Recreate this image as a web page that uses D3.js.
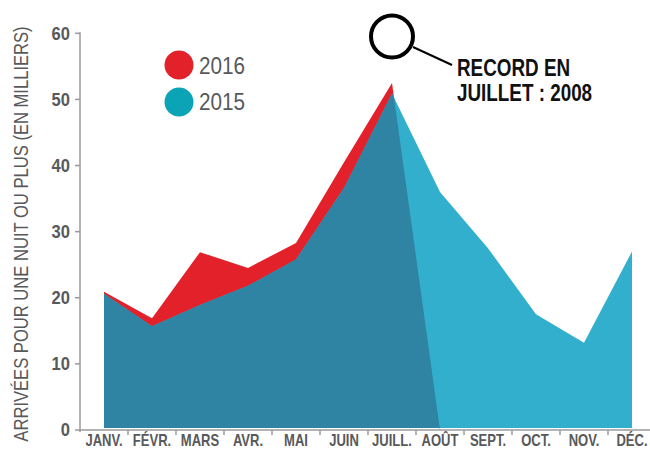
<!DOCTYPE html>
<html>
<head>
<meta charset="utf-8">
<script src="https://cdn.jsdelivr.net/npm/d3@7"></script>
<style>
  html, body { margin: 0; padding: 0; background: #fff; }
  svg { display: block; }
  text { font-family: "Liberation Sans", Arial, Helvetica, sans-serif; }
</style>
</head>
<body>
<svg id="chart" width="650" height="449"></svg>
<script>
const months = ["JANV.", "FÉVR.", "MARS", "AVR.", "MAI", "JUIN", "JUILL.", "AOÛT", "SEPT.", "OCT.", "NOV.", "DÉC."];
const values2016 = [20.9, 16.9, 26.9, 24.5, 28.3, 40.5, 52.5, 0, null, null, null, null];
const values2015 = [20.6, 15.7, 18.9, 21.8, 25.8, 36.6, 50.9, 36.0, 27.5, 17.5, 13.2, 27.0];
const yTicks = [0, 10, 20, 30, 40, 50, 60];
const legendLabels = ["2016", "2015"];
const yTitle = "ARRIVÉES POUR UNE NUIT OU PLUS (EN MILLIERS)";
const noteLines = ["RECORD EN", "JUILLET : 2008"];

const svg = d3.select("#chart");
const x = d3.scaleBand().domain(months).range([80, 656]).padding(0);
const y = d3.scaleLinear().domain([0, 60]).range([430, 33.3]);
const cx = m => x(m) + x.bandwidth() / 2;

const red = "#E3212A", light = "#33AFCE", dark = "#2E84A2";
const grey = "#58595B", axisGrey = "#9a9a9a";

// condensed text helper (horizontal squeeze to mimic a condensed face)
function txt(parent, tx, ty, str, opts) {
  const o = Object.assign({ size: 16, weight: "normal", sx: 0.8, anchor: "start", fill: grey, rot: 0, dy: null }, opts);
  const t = parent.append("text")
    .attr("transform", `translate(${tx},${ty}) rotate(${o.rot}) scale(${o.sx},1)`)
    .attr("text-anchor", o.anchor)
    .attr("font-size", o.size)
    .attr("font-weight", o.weight)
    .attr("fill", o.fill)
    .text(str);
  if (o.dy) t.attr("dy", o.dy);
  return t;
}

const data16 = months.map((m, i) => ({ m, v: values2016[i] })).filter(d => d.v !== null);
const data15 = months.map((m, i) => ({ m, v: values2015[i] }));

const area = d3.area().x(d => cx(d.m)).y0(y(0) - 2).y1(d => y(d.v));

svg.append("path").datum(data16).attr("d", area).attr("fill", red);
svg.append("path").datum(data15).attr("d", area).attr("fill", light);
svg.append("clipPath").attr("id", "clip16").append("path").datum(data16).attr("d", area);
svg.append("path").datum(data15).attr("d", area).attr("fill", dark).attr("clip-path", "url(#clip16)");

// Y axis
const yAxis = svg.append("g").attr("transform", "translate(80,0)");
yAxis.append("line").attr("x1", 0).attr("x2", 0).attr("y1", y(60) - 1).attr("y2", y(0) + 2)
  .attr("stroke", axisGrey).attr("stroke-width", 1.5);
yTicks.forEach(t => {
  yAxis.append("line").attr("x1", -5).attr("x2", 0).attr("y1", y(t)).attr("y2", y(t))
    .attr("stroke", axisGrey).attr("stroke-width", 1.5);
  txt(yAxis, -10, y(t), t, { size: 18, weight: "bold", sx: 0.92, anchor: "end", dy: "0.36em" });
});

// X axis
const xAxis = svg.append("g");
xAxis.append("line").attr("x1", 79).attr("x2", 650).attr("y1", y(0)).attr("y2", y(0))
  .attr("stroke", axisGrey).attr("stroke-width", 1.5);
months.forEach((m, i) => {
  if (i > 0) {
    xAxis.append("line").attr("x1", x(m)).attr("x2", x(m)).attr("y1", y(0)).attr("y2", y(0) + 5)
      .attr("stroke", axisGrey).attr("stroke-width", 1.5);
  }
  txt(xAxis, cx(m), 446, m, { size: 16.5, weight: "bold", sx: 0.79, anchor: "middle" });
});

// Y title
txt(svg, 28, 234, yTitle, { size: 20, sx: 0.83, anchor: "middle", rot: -90 });

// Legend
const legColors = [red, "#0AA4B6"];
legendLabels.forEach((l, i) => {
  svg.append("circle").attr("cx", 179).attr("cy", 65 + i * 37).attr("r", 14.5).attr("fill", legColors[i]);
  txt(svg, 199, 74 + i * 36, l, { size: 23, sx: 0.9 });
});

// Annotation
svg.append("circle").attr("cx", 392).attr("cy", 36.5).attr("r", 21).attr("fill", "none")
  .attr("stroke", "#000").attr("stroke-width", 4);
svg.append("line").attr("x1", 413).attr("y1", 47).attr("x2", 452).attr("y2", 65)
  .attr("stroke", "#000").attr("stroke-width", 2);
noteLines.forEach((t, i) => {
  txt(svg, 457, 76 + i * 25, t, { size: 23, weight: "bold", sx: 0.82, fill: "#111" });
});
</script>
</body>
</html>
